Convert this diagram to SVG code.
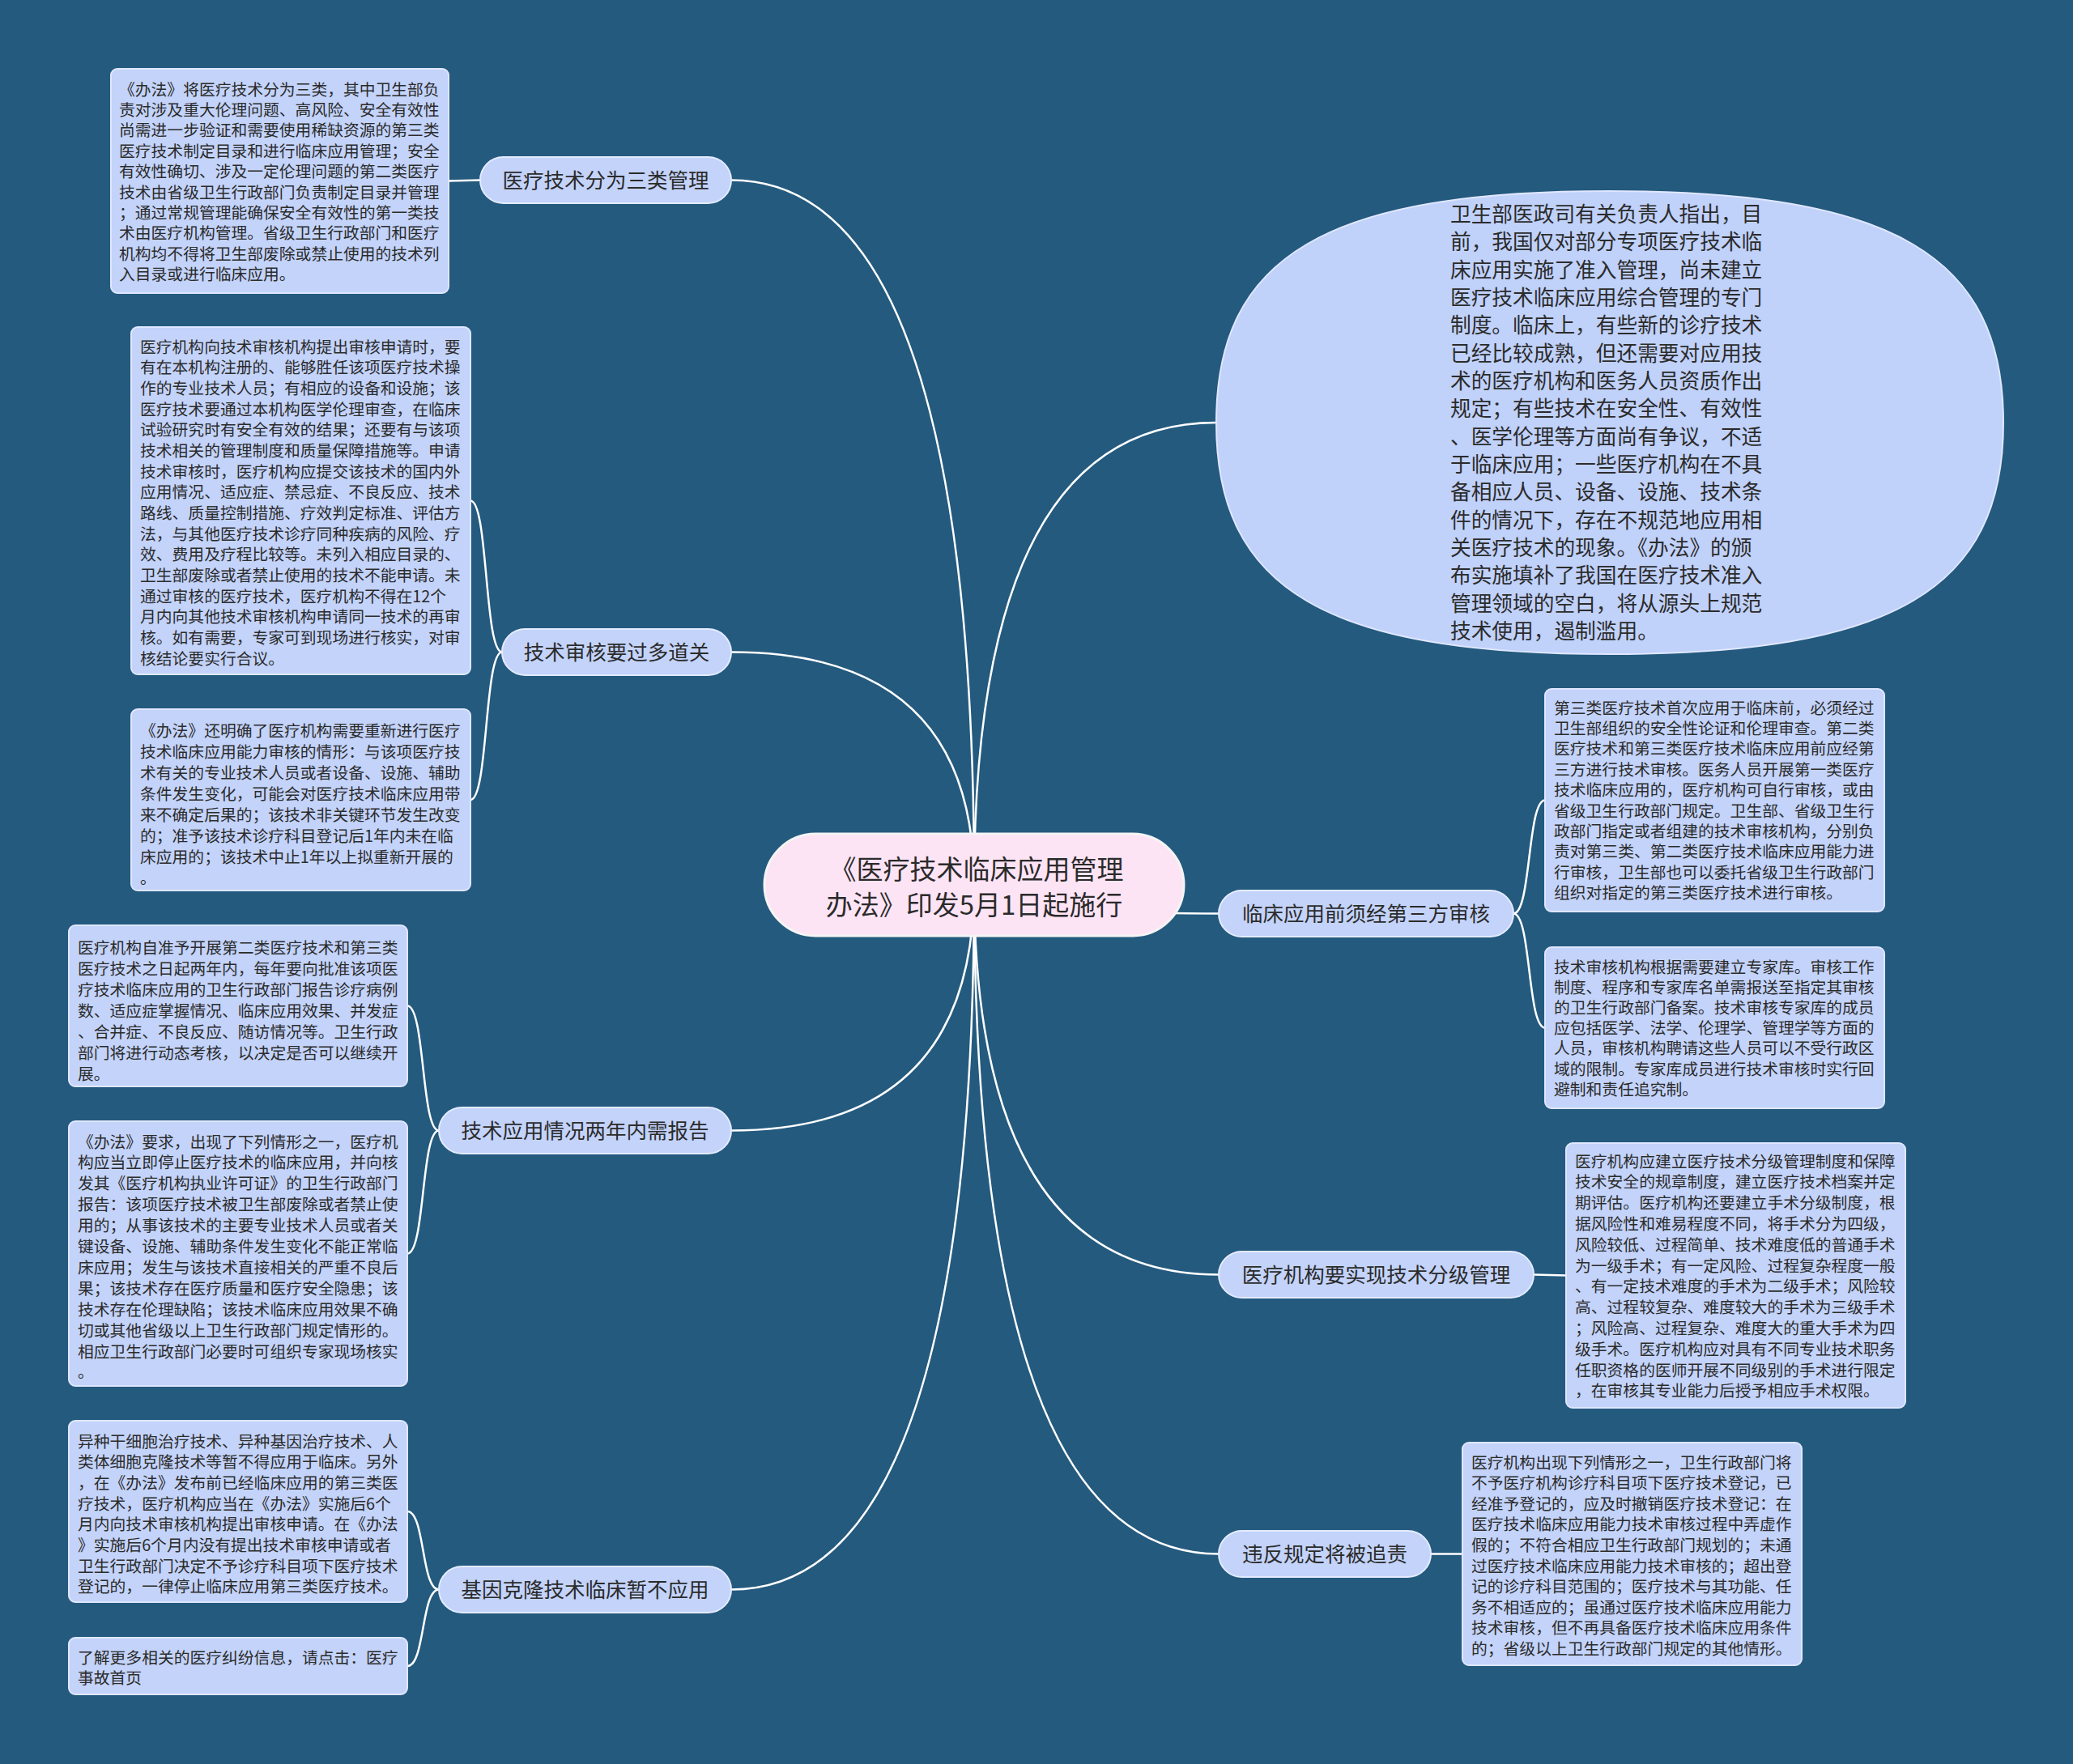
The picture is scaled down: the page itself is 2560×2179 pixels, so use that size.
<svg xmlns="http://www.w3.org/2000/svg" width="2560" height="2179" viewBox="0 0 2560 2179">
<style>
.box{fill:#c3d3fa;stroke:#dfe7ff;stroke-width:2}
.node{fill:#c3d3fa;stroke:#e4ebff;stroke-width:2}
.t{font-family:"Noto Sans CJK SC","Noto Sans",sans-serif;font-size:19.8px;fill:#2b2b2b}
.nt{font-family:"Noto Sans CJK SC","Noto Sans",sans-serif;font-size:25.5px;fill:#2b2b2b;text-anchor:middle}
.et{font-family:"Noto Sans CJK SC","Noto Sans",sans-serif;font-size:25.7px;fill:#2b2b2b}
.rt{font-family:"Noto Sans CJK SC","Noto Sans",sans-serif;font-size:33px;fill:#2b2b2b;text-anchor:middle}
.c{fill:none;stroke:#ffffff;stroke-width:2.5}
</style>
<rect x="0" y="0" width="2560" height="2179" fill="#245a7e"/>
<g id="connectors">
<path class="c" d="M1203,1093 Q1203,222.5 903,222.5"/>
<path class="c" d="M1203,1093 Q1203,805.5 903,805.5"/>
<path class="c" d="M1203,1093 Q1203,1396.5 903,1396.5"/>
<path class="c" d="M1203,1093 Q1203,1963.5 903,1963.5"/>
<path class="c" d="M1203,1093 Q1203,522 1502,522"/>
<path class="c" d="M1203,1093 Q1203,1128.5 1505,1128.5"/>
<path class="c" d="M1203,1093 Q1203,1574.5 1505,1574.5"/>
<path class="c" d="M1203,1093 Q1203,1919.5 1505,1919.5"/>
<path class="c" d="M593,222.5 L554,223.5"/>
<path class="c" d="M620,805.5 C598,805.5 603,618.5 581,618.5"/>
<path class="c" d="M620,805.5 C598,805.5 603,988 581,988"/>
<path class="c" d="M542,1396.5 C520,1396.5 525,1242.5 503,1242.5"/>
<path class="c" d="M542,1396.5 C520,1396.5 525,1548.5 503,1548.5"/>
<path class="c" d="M542,1963.5 C520,1963.5 525,1867 503,1867"/>
<path class="c" d="M542,1963.5 C520,1963.5 525,2058 503,2058"/>
<path class="c" d="M1869,1128.5 C1891,1128.5 1886,988.5 1908,988.5"/>
<path class="c" d="M1869,1128.5 C1891,1128.5 1886,1269.5 1908,1269.5"/>
<path class="c" d="M1894,1574.5 L1934,1575.5"/>
<path class="c" d="M1767,1919.5 L1806,1919.5"/>
</g>
<g id="root">
<rect x="944" y="1030" width="518" height="126" rx="63" fill="#fde4f5" stroke="#f4f4f4" stroke-width="3"/>
<text class="rt"><tspan x="1206" y="1085.5">《医疗技术临床应用管理</tspan><tspan x="1203" y="1130">办法》印发5月1日起施行</tspan></text>
</g>
<g id="n1">
<rect class="node" x="593" y="194" width="310" height="57" rx="28.5"/>
<text class="nt" x="748" y="232">医疗技术分为三类管理</text>
</g>
<g id="n2">
<rect class="node" x="620" y="777" width="283" height="57" rx="28.5"/>
<text class="nt" x="761.5" y="815">技术审核要过多道关</text>
</g>
<g id="n3">
<rect class="node" x="542" y="1368" width="361" height="57" rx="28.5"/>
<text class="nt" x="722.5" y="1406">技术应用情况两年内需报告</text>
</g>
<g id="n4">
<rect class="node" x="542" y="1935" width="361" height="57" rx="28.5"/>
<text class="nt" x="722.5" y="1973">基因克隆技术临床暂不应用</text>
</g>
<g id="n5">
<rect class="node" x="1505" y="1100" width="364" height="57" rx="28.5"/>
<text class="nt" x="1687" y="1138">临床应用前须经第三方审核</text>
</g>
<g id="n6">
<rect class="node" x="1505" y="1546" width="389" height="57" rx="28.5"/>
<text class="nt" x="1699.5" y="1584">医疗机构要实现技术分级管理</text>
</g>
<g id="n7">
<rect class="node" x="1505" y="1891" width="262" height="57" rx="28.5"/>
<text class="nt" x="1636" y="1929">违反规定将被追责</text>
</g>
<g id="ellipse">
<path d="M1502,522 C1502,316 1638,236 1988,236 C2338,236 2474,316 2474,522 C2474,728 2338,808 1988,808 C1638,808 1502,728 1502,522 Z" fill="#c0d1fa" stroke="#dfe7ff" stroke-width="2"/>
<text class="et" x="1791" y="274">
<tspan x="1791" dy="0">卫生部医政司有关负责人指出，目</tspan>
<tspan x="1791" dy="34.33">前，我国仅对部分专项医疗技术临</tspan>
<tspan x="1791" dy="34.33">床应用实施了准入管理，尚未建立</tspan>
<tspan x="1791" dy="34.33">医疗技术临床应用综合管理的专门</tspan>
<tspan x="1791" dy="34.33">制度。临床上，有些新的诊疗技术</tspan>
<tspan x="1791" dy="34.33">已经比较成熟，但还需要对应用技</tspan>
<tspan x="1791" dy="34.33">术的医疗机构和医务人员资质作出</tspan>
<tspan x="1791" dy="34.33">规定；有些技术在安全性、有效性</tspan>
<tspan x="1791" dy="34.33">、医学伦理等方面尚有争议，不适</tspan>
<tspan x="1791" dy="34.33">于临床应用；一些医疗机构在不具</tspan>
<tspan x="1791" dy="34.33">备相应人员、设备、设施、技术条</tspan>
<tspan x="1791" dy="34.33">件的情况下，存在不规范地应用相</tspan>
<tspan x="1791" dy="34.33">关医疗技术的现象。《办法》的颁</tspan>
<tspan x="1791" dy="34.33">布实施填补了我国在医疗技术准入</tspan>
<tspan x="1791" dy="34.33">管理领域的空白，将从源头上规范</tspan>
<tspan x="1791" dy="34.33">技术使用，遏制滥用。</tspan>
</text>
</g>
<g id="boxA">
<rect class="box" x="137" y="85" width="417" height="277" rx="8"/>
<text class="t" y="117.5">
<tspan x="147" dy="0">《办法》将医疗技术分为三类，其中卫生部负</tspan>
<tspan x="147" dy="25.4">责对涉及重大伦理问题、高风险、安全有效性</tspan>
<tspan x="147" dy="25.4">尚需进一步验证和需要使用稀缺资源的第三类</tspan>
<tspan x="147" dy="25.4">医疗技术制定目录和进行临床应用管理；安全</tspan>
<tspan x="147" dy="25.4">有效性确切、涉及一定伦理问题的第二类医疗</tspan>
<tspan x="147" dy="25.4">技术由省级卫生行政部门负责制定目录并管理</tspan>
<tspan x="147" dy="25.4">；通过常规管理能确保安全有效性的第一类技</tspan>
<tspan x="147" dy="25.4">术由医疗机构管理。省级卫生行政部门和医疗</tspan>
<tspan x="147" dy="25.4">机构均不得将卫生部废除或禁止使用的技术列</tspan>
<tspan x="147" dy="25.4">入目录或进行临床应用。</tspan>
</text>
</g>
<g id="boxB">
<rect class="box" x="162" y="404" width="419" height="429" rx="8"/>
<text class="t" y="435.5">
<tspan x="173" dy="0">医疗机构向技术审核机构提出审核申请时，要</tspan>
<tspan x="173" dy="25.67">有在本机构注册的、能够胜任该项医疗技术操</tspan>
<tspan x="173" dy="25.67">作的专业技术人员；有相应的设备和设施；该</tspan>
<tspan x="173" dy="25.67">医疗技术要通过本机构医学伦理审查，在临床</tspan>
<tspan x="173" dy="25.67">试验研究时有安全有效的结果；还要有与该项</tspan>
<tspan x="173" dy="25.67">技术相关的管理制度和质量保障措施等。申请</tspan>
<tspan x="173" dy="25.67">技术审核时，医疗机构应提交该技术的国内外</tspan>
<tspan x="173" dy="25.67">应用情况、适应症、禁忌症、不良反应、技术</tspan>
<tspan x="173" dy="25.67">路线、质量控制措施、疗效判定标准、评估方</tspan>
<tspan x="173" dy="25.67">法，与其他医疗技术诊疗同种疾病的风险、疗</tspan>
<tspan x="173" dy="25.67">效、费用及疗程比较等。未列入相应目录的、</tspan>
<tspan x="173" dy="25.67">卫生部废除或者禁止使用的技术不能申请。未</tspan>
<tspan x="173" dy="25.67">通过审核的医疗技术，医疗机构不得在12个</tspan>
<tspan x="173" dy="25.67">月内向其他技术审核机构申请同一技术的再审</tspan>
<tspan x="173" dy="25.67">核。如有需要，专家可到现场进行核实，对审</tspan>
<tspan x="173" dy="25.67">核结论要实行合议。</tspan>
</text>
</g>
<g id="boxC">
<rect class="box" x="162" y="876" width="419" height="224" rx="8"/>
<text class="t" y="909.5">
<tspan x="173" dy="0">《办法》还明确了医疗机构需要重新进行医疗</tspan>
<tspan x="173" dy="26">技术临床应用能力审核的情形：与该项医疗技</tspan>
<tspan x="173" dy="26">术有关的专业技术人员或者设备、设施、辅助</tspan>
<tspan x="173" dy="26">条件发生变化，可能会对医疗技术临床应用带</tspan>
<tspan x="173" dy="26">来不确定后果的；该技术非关键环节发生改变</tspan>
<tspan x="173" dy="26">的；准予该技术诊疗科目登记后1年内未在临</tspan>
<tspan x="173" dy="26">床应用的；该技术中止1年以上拟重新开展的</tspan>
<tspan x="173" dy="26">。</tspan>
</text>
</g>
<g id="boxD">
<rect class="box" x="85" y="1143" width="418" height="199" rx="8"/>
<text class="t" y="1177.5">
<tspan x="96" dy="0">医疗机构自准予开展第二类医疗技术和第三类</tspan>
<tspan x="96" dy="26">医疗技术之日起两年内，每年要向批准该项医</tspan>
<tspan x="96" dy="26">疗技术临床应用的卫生行政部门报告诊疗病例</tspan>
<tspan x="96" dy="26">数、适应症掌握情况、临床应用效果、并发症</tspan>
<tspan x="96" dy="26">、合并症、不良反应、随访情况等。卫生行政</tspan>
<tspan x="96" dy="26">部门将进行动态考核，以决定是否可以继续开</tspan>
<tspan x="96" dy="26">展。</tspan>
</text>
</g>
<g id="boxE">
<rect class="box" x="85" y="1385" width="418" height="327" rx="8"/>
<text class="t" y="1417.5">
<tspan x="96" dy="0">《办法》要求，出现了下列情形之一，医疗机</tspan>
<tspan x="96" dy="25.9">构应当立即停止医疗技术的临床应用，并向核</tspan>
<tspan x="96" dy="25.9">发其《医疗机构执业许可证》的卫生行政部门</tspan>
<tspan x="96" dy="25.9">报告：该项医疗技术被卫生部废除或者禁止使</tspan>
<tspan x="96" dy="25.9">用的；从事该技术的主要专业技术人员或者关</tspan>
<tspan x="96" dy="25.9">键设备、设施、辅助条件发生变化不能正常临</tspan>
<tspan x="96" dy="25.9">床应用；发生与该技术直接相关的严重不良后</tspan>
<tspan x="96" dy="25.9">果；该技术存在医疗质量和医疗安全隐患；该</tspan>
<tspan x="96" dy="25.9">技术存在伦理缺陷；该技术临床应用效果不确</tspan>
<tspan x="96" dy="25.9">切或其他省级以上卫生行政部门规定情形的。</tspan>
<tspan x="96" dy="25.9">相应卫生行政部门必要时可组织专家现场核实</tspan>
<tspan x="96" dy="25.9">。</tspan>
</text>
</g>
<g id="boxF">
<rect class="box" x="85" y="1755" width="418" height="224" rx="8"/>
<text class="t" y="1787.5">
<tspan x="96" dy="0">异种干细胞治疗技术、异种基因治疗技术、人</tspan>
<tspan x="96" dy="25.7">类体细胞克隆技术等暂不得应用于临床。另外</tspan>
<tspan x="96" dy="25.7">，在《办法》发布前已经临床应用的第三类医</tspan>
<tspan x="96" dy="25.7">疗技术，医疗机构应当在《办法》实施后6个</tspan>
<tspan x="96" dy="25.7">月内向技术审核机构提出审核申请。在《办法</tspan>
<tspan x="96" dy="25.7">》实施后6个月内没有提出技术审核申请或者</tspan>
<tspan x="96" dy="25.7">卫生行政部门决定不予诊疗科目项下医疗技术</tspan>
<tspan x="96" dy="25.7">登记的，一律停止临床应用第三类医疗技术。</tspan>
</text>
</g>
<g id="boxG">
<rect class="box" x="85" y="2023" width="418" height="70" rx="8"/>
<text class="t" y="2054.5">
<tspan x="96" dy="0">了解更多相关的医疗纠纷信息，请点击：医疗</tspan>
<tspan x="96" dy="25">事故首页</tspan>
</text>
</g>
<g id="boxH">
<rect class="box" x="1908" y="851" width="419" height="275" rx="8"/>
<text class="t" y="881.5">
<tspan x="1919" dy="0">第三类医疗技术首次应用于临床前，必须经过</tspan>
<tspan x="1919" dy="25.4">卫生部组织的安全性论证和伦理审查。第二类</tspan>
<tspan x="1919" dy="25.4">医疗技术和第三类医疗技术临床应用前应经第</tspan>
<tspan x="1919" dy="25.4">三方进行技术审核。医务人员开展第一类医疗</tspan>
<tspan x="1919" dy="25.4">技术临床应用的，医疗机构可自行审核，或由</tspan>
<tspan x="1919" dy="25.4">省级卫生行政部门规定。卫生部、省级卫生行</tspan>
<tspan x="1919" dy="25.4">政部门指定或者组建的技术审核机构，分别负</tspan>
<tspan x="1919" dy="25.4">责对第三类、第二类医疗技术临床应用能力进</tspan>
<tspan x="1919" dy="25.4">行审核，卫生部也可以委托省级卫生行政部门</tspan>
<tspan x="1919" dy="25.4">组织对指定的第三类医疗技术进行审核。</tspan>
</text>
</g>
<g id="boxI">
<rect class="box" x="1908" y="1170" width="419" height="199" rx="8"/>
<text class="t" y="1201.5">
<tspan x="1919" dy="0">技术审核机构根据需要建立专家库。审核工作</tspan>
<tspan x="1919" dy="25.2">制度、程序和专家库名单需报送至指定其审核</tspan>
<tspan x="1919" dy="25.2">的卫生行政部门备案。技术审核专家库的成员</tspan>
<tspan x="1919" dy="25.2">应包括医学、法学、伦理学、管理学等方面的</tspan>
<tspan x="1919" dy="25.2">人员，审核机构聘请这些人员可以不受行政区</tspan>
<tspan x="1919" dy="25.2">域的限制。专家库成员进行技术审核时实行回</tspan>
<tspan x="1919" dy="25.2">避制和责任追究制。</tspan>
</text>
</g>
<g id="boxJ">
<rect class="box" x="1934" y="1412" width="419" height="327" rx="8"/>
<text class="t" y="1441.5">
<tspan x="1945" dy="0">医疗机构应建立医疗技术分级管理制度和保障</tspan>
<tspan x="1945" dy="25.8">技术安全的规章制度，建立医疗技术档案并定</tspan>
<tspan x="1945" dy="25.8">期评估。医疗机构还要建立手术分级制度，根</tspan>
<tspan x="1945" dy="25.8">据风险性和难易程度不同，将手术分为四级，</tspan>
<tspan x="1945" dy="25.8">风险较低、过程简单、技术难度低的普通手术</tspan>
<tspan x="1945" dy="25.8">为一级手术；有一定风险、过程复杂程度一般</tspan>
<tspan x="1945" dy="25.8">、有一定技术难度的手术为二级手术；风险较</tspan>
<tspan x="1945" dy="25.8">高、过程较复杂、难度较大的手术为三级手术</tspan>
<tspan x="1945" dy="25.8">；风险高、过程复杂、难度大的重大手术为四</tspan>
<tspan x="1945" dy="25.8">级手术。医疗机构应对具有不同专业技术职务</tspan>
<tspan x="1945" dy="25.8">任职资格的医师开展不同级别的手术进行限定</tspan>
<tspan x="1945" dy="25.8">，在审核其专业能力后授予相应手术权限。</tspan>
</text>
</g>
<g id="boxK">
<rect class="box" x="1806" y="1782" width="419" height="275" rx="8"/>
<text class="t" y="1813.5">
<tspan x="1817" dy="0">医疗机构出现下列情形之一，卫生行政部门将</tspan>
<tspan x="1817" dy="25.6">不予医疗机构诊疗科目项下医疗技术登记，已</tspan>
<tspan x="1817" dy="25.6">经准予登记的，应及时撤销医疗技术登记：在</tspan>
<tspan x="1817" dy="25.6">医疗技术临床应用能力技术审核过程中弄虚作</tspan>
<tspan x="1817" dy="25.6">假的；不符合相应卫生行政部门规划的；未通</tspan>
<tspan x="1817" dy="25.6">过医疗技术临床应用能力技术审核的；超出登</tspan>
<tspan x="1817" dy="25.6">记的诊疗科目范围的；医疗技术与其功能、任</tspan>
<tspan x="1817" dy="25.6">务不相适应的；虽通过医疗技术临床应用能力</tspan>
<tspan x="1817" dy="25.6">技术审核，但不再具备医疗技术临床应用条件</tspan>
<tspan x="1817" dy="25.6">的；省级以上卫生行政部门规定的其他情形。</tspan>
</text>
</g>
</svg>
